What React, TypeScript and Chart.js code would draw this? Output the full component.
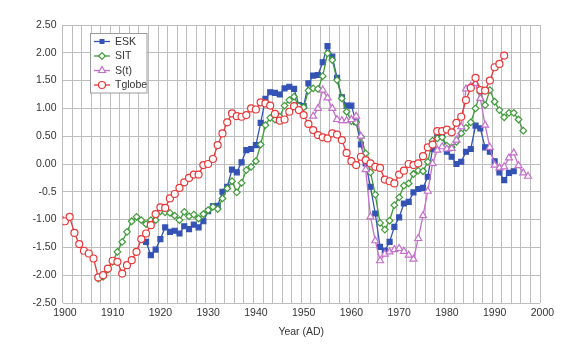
import React, { useEffect, useRef } from 'react';
import { Chart, registerables } from 'chart.js';

Chart.register(...registerables);

// ---- data ----
const eskStart = 1917;
const eskValues = [
  -1.40, -1.64, -1.54, -1.35, -1.14, -1.22, -1.20, -1.25, -1.12, -1.17,
  -1.09, -1.14, -1.03, -0.85, -0.76, -0.75, -0.50, -0.41, -0.10, -0.15,
  0.03, 0.25, 0.27, 0.34, 0.74, 1.17, 1.29, 1.28, 1.25, 1.36,
  1.39, 1.35, 1.06, 1.04, 1.45, 1.59, 1.60, 1.83, 2.12, 1.93,
  1.55, 1.20, 1.05, 1.05, 0.75, 0.35, 0.01, -0.41, -0.89, -1.49,
  -1.56, -1.40, -1.13, -0.96, -0.71, -0.68, -0.51, -0.45, -0.43, -0.23,
  0.27, 0.50, 0.52, 0.22, 0.13, 0.00, 0.04, 0.22, 0.27, 0.69,
  0.64, 0.30, 0.22, 0.05, -0.15, -0.29, -0.16, -0.13,
];

const sitStart = 1907;
const sitValues = [
  -2.06, -2.03, -1.90, -1.76, -1.58, -1.40, -1.22, -1.03, -0.95, -1.01,
  -1.08, -1.01, -1.01, -0.85, -0.87, -0.88, -0.93, -1.01, -0.86, -0.94,
  -0.91, -0.98, -0.90, -0.83, -0.77, -0.81, -0.62, -0.44, -0.31, -0.51,
  -0.34, -0.11, -0.05, 0.05, 0.35, 0.70, 0.83, 0.80, 0.85, 1.05,
  1.15, 1.21, 1.04, 1.02, 1.32, 1.36, 1.35, 1.58, 1.99, 1.87,
  1.51, 1.18, 0.94, 0.77, 0.75, 0.49, 0.19, -0.15, -0.55, -1.06,
  -1.18, -1.02, -0.74, -0.60, -0.39, -0.35, -0.18, -0.12, -0.13, 0.04,
  0.42, 0.46, 0.48, 0.33, 0.30, 0.40, 0.55, 0.65, 0.75, 1.00,
  1.29, 1.06, 1.33, 1.12, 0.97, 0.84, 0.92, 0.92, 0.80, 0.60,
];

const stStart = 1952;
const stValues = [
  0.86, 1.00, 1.33, 1.19, 1.00, 0.80, 0.78, 0.78, 0.80, 0.86,
  0.50, -0.10, -0.95, -1.38, -1.74, -1.62, -1.58, -1.54, -1.52, -1.57,
  -1.64, -1.71, -1.34, -0.93, -0.49, 0.01, 0.25, 0.31, 0.27, 0.28,
  0.43, 0.67, 1.35, 1.40, 1.45, 1.18, 0.70, 0.30, -0.02, -0.07,
  -0.05, 0.11, 0.20, -0.03, -0.16, -0.22,
];

const tglobeStart = 1899;
const tglobeValues = [
  -0.99, -1.03, -0.95, -1.24, -1.44, -1.56, -1.61, -1.70, -2.04, -2.00,
  -1.88, -1.74, -1.76, -1.97, -1.82, -1.73, -1.58, -1.35, -1.25, -1.10,
  -0.90, -0.78, -0.79, -0.62, -0.54, -0.43, -0.33, -0.25, -0.19, -0.19,
  -0.02, 0.00, 0.09, 0.34, 0.55, 0.75, 0.91, 0.86, 0.85, 0.88,
  1.00, 0.98, 1.11, 1.09, 1.05, 0.90, 0.78, 0.80, 0.94, 1.04,
  0.97, 0.88, 0.72, 0.61, 0.52, 0.48, 0.46, 0.55, 0.53, 0.43,
  0.20, 0.05, -0.02, 0.13, 0.07, 0.01, -0.05, -0.07, -0.28, -0.31,
  -0.35, -0.19, -0.12, 0.00, -0.02, 0.01, 0.14, 0.30, 0.35, 0.59,
  0.59, 0.62, 0.57, 0.74, 0.85, 1.15, 1.37, 1.55, 1.33, 1.32,
  1.50, 1.74, 1.80, 1.95,
];

const seriesNames = ['ESK', 'SIT', 'S(t)', 'Tglobe'];
const xTickYears = [1900, 1910, 1920, 1930, 1940, 1950, 1960, 1970, 1980, 1990, 2000];
const yTickValues = [-2.5, -2, -1.5, -1, -0.5, 0, 0.5, 1, 1.5, 2, 2.5];
const yTickLabels = ['-2.50', '-2.00', '-1.50', '-1.00', '-0.5', '0.00', '0.50', '1.00', '1.50', '2.00', '2.50'];
const xAxisTitle = 'Year (AD)';

// ---- styles ----
const FONT = '"Liberation Sans", Arial, Helvetica, sans-serif';
const TEXT = '#333333';
const GRID = '#bdbdbd';
const BLUE = '#3553b5';
const GREEN = '#3f9a3a';
const VIOLET = '#c46fcb';
const RED = '#e8383a';

const X_MIN = 1899.5;
const X_MAX = 1999.5;

const toPoints = (start: number, values: number[]) => values.map((v, i) => ({ x: start + i, y: v }));

function drawMarker(ctx: CanvasRenderingContext2D, style: string, x: number, y: number, r: number, color: string) {
  ctx.save();
  ctx.lineWidth = 1.2;
  ctx.strokeStyle = color;
  ctx.fillStyle = style === 'rect' ? color : '#ffffff';
  ctx.beginPath();
  if (style === 'rect') {
    const s = r * Math.SQRT1_2;
    ctx.rect(x - s, y - s, 2 * s, 2 * s);
  } else if (style === 'rectRot') {
    ctx.moveTo(x - r, y);
    ctx.lineTo(x, y - r);
    ctx.lineTo(x + r, y);
    ctx.lineTo(x, y + r);
    ctx.closePath();
  } else if (style === 'triangle') {
    let a = 0;
    ctx.moveTo(x + Math.sin(a) * r, y - Math.cos(a) * r);
    a += (2 * Math.PI) / 3;
    ctx.lineTo(x + Math.sin(a) * r, y - Math.cos(a) * r);
    a += (2 * Math.PI) / 3;
    ctx.lineTo(x + Math.sin(a) * r, y - Math.cos(a) * r);
    ctx.closePath();
  } else {
    ctx.arc(x, y, r, 0, Math.PI * 2);
  }
  ctx.fill();
  if (style !== 'rect') ctx.stroke();
  ctx.restore();
}

const legendStyles = [
  { color: BLUE, style: 'rect', r: 3.5 },
  { color: GREEN, style: 'rectRot', r: 3.3 },
  { color: VIOLET, style: 'triangle', r: 4 },
  { color: RED, style: 'circle', r: 3.5 },
];

const insetLegend = {
  id: 'insetLegend',
  afterDraw(chart: any) {
    const ctx: CanvasRenderingContext2D = chart.ctx;
    ctx.save();
    ctx.fillStyle = '#ffffff';
    ctx.fillRect(90.5, 33.5, 56.5, 59.5);
    ctx.strokeStyle = '#9a9a9a';
    ctx.lineWidth = 1;
    ctx.strokeRect(90.5, 33.5, 56.5, 59.5);
    const rows = [41.5, 56, 70.5, 85];
    seriesNames.forEach((name, i) => {
      const st = legendStyles[i];
      const y = rows[i];
      ctx.strokeStyle = st.color;
      ctx.lineWidth = 1.3;
      ctx.beginPath();
      ctx.moveTo(94, y);
      ctx.lineTo(110, y);
      ctx.stroke();
      drawMarker(ctx, st.style, 102, y, st.r, st.color);
      ctx.fillStyle = TEXT;
      ctx.font = `10.5px ${FONT}`;
      ctx.textBaseline = 'middle';
      ctx.textAlign = 'left';
      ctx.fillText(name, 115, y + 0.5);
    });
    ctx.restore();
  },
};

export default function App() {
  const canvasRef = useRef<HTMLCanvasElement | null>(null);

  useEffect(() => {
    if (!canvasRef.current) return;
    const common = { borderWidth: 1.3, pointBorderWidth: 1.2, pointHoverRadius: 4, tension: 0, fill: false };
    const chart = new Chart(canvasRef.current, {
      type: 'line',
      data: {
        datasets: [
          {
            ...common,
            label: seriesNames[0],
            data: toPoints(eskStart, eskValues),
            borderColor: BLUE,
            backgroundColor: BLUE,
            pointStyle: 'rect',
            pointRadius: 3.5,
            pointBackgroundColor: BLUE,
            pointBorderColor: BLUE,
            order: 3,
          },
          {
            ...common,
            label: seriesNames[1],
            data: toPoints(sitStart, sitValues),
            borderColor: GREEN,
            backgroundColor: '#ffffff',
            pointStyle: 'rectRot',
            pointRadius: 3.3,
            pointBackgroundColor: '#ffffff',
            pointBorderColor: GREEN,
            order: 2,
          },
          {
            ...common,
            label: seriesNames[2],
            data: toPoints(stStart, stValues),
            borderColor: VIOLET,
            backgroundColor: '#ffffff',
            pointStyle: 'triangle',
            pointRadius: 4,
            pointBackgroundColor: '#ffffff',
            pointBorderColor: VIOLET,
            order: 1,
          },
          {
            ...common,
            label: seriesNames[3],
            data: toPoints(tglobeStart, tglobeValues),
            borderColor: RED,
            backgroundColor: '#ffffff',
            pointStyle: 'circle',
            pointRadius: 3.5,
            pointBackgroundColor: '#ffffff',
            pointBorderColor: RED,
            order: 0,
          },
        ],
      },
      options: {
        responsive: false,
        animation: false,
        devicePixelRatio: 1,
        layout: { padding: { left: 0, right: 22, top: 25, bottom: 0 } },
        plugins: {
          legend: { display: false },
          tooltip: { enabled: false },
          title: { display: false },
        },
        scales: {
          x: {
            type: 'linear',
            min: X_MIN,
            max: X_MAX,
            border: { display: false },
            grid: {
              drawTicks: false,
              lineWidth: 1,
              color: (c: any) => (c.tick && Number.isInteger(c.tick.value) ? 'rgba(0,0,0,0)' : GRID),
            },
            afterBuildTicks: (scale: any) => {
              const vals: number[] = [];
              for (let v = X_MIN; v <= X_MAX + 1e-6; v += 2) vals.push(v);
              xTickYears.forEach((y) => vals.push(y));
              vals.sort((a, b) => a - b);
              scale.ticks = vals.map((v) => ({ value: v }));
            },
            afterFit: (scale: any) => {
              scale.height = 47;
            },
            ticks: {
              autoSkip: false,
              maxRotation: 0,
              minRotation: 0,
              padding: 4,
              color: TEXT,
              font: { family: FONT, size: 10.5 },
              callback: (value: any) => (Number.isInteger(value) && xTickYears.includes(value) ? String(value) : ''),
            },
            title: {
              display: true,
              text: xAxisTitle,
              color: TEXT,
              font: { family: FONT, size: 10.5 },
              padding: { top: 4, bottom: 12 },
            },
          },
          y: {
            type: 'linear',
            min: -2.5,
            max: 2.5,
            border: { display: false },
            grid: { drawTicks: false, color: GRID, lineWidth: 1 },
            afterBuildTicks: (scale: any) => {
              scale.ticks = yTickValues.map((v) => ({ value: v }));
            },
            afterFit: (scale: any) => {
              scale.width = 62.5;
            },
            ticks: {
              padding: 6,
              color: TEXT,
              font: { family: FONT, size: 10.5 },
              callback: (value: any) => {
                const i = yTickValues.findIndex((v) => Math.abs(v - value) < 1e-6);
                return i >= 0 ? yTickLabels[i] : '';
              },
            },
          },
        },
      },
      plugins: [insetLegend],
    } as any);
    return () => chart.destroy();
  }, []);

  return (
    <div style={{ position: 'fixed', left: 0, top: 0, width: 562, height: 350, background: '#ffffff' }}>
      <canvas ref={canvasRef} width={562} height={350} style={{ width: 562, height: 350, display: 'block' }} />
    </div>
  );
}
